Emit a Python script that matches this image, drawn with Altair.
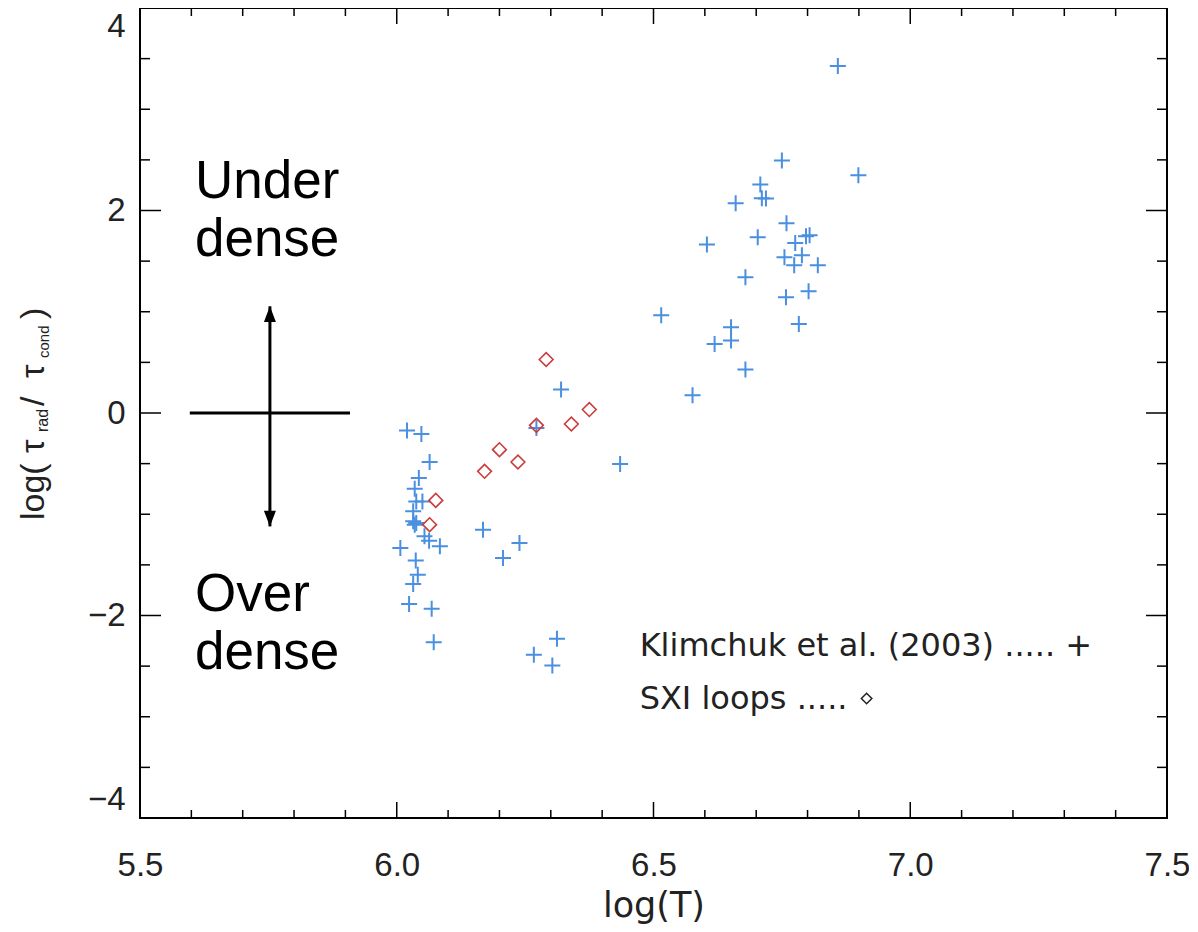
import altair as alt
import pandas as pd

# ---- data ----
klim_logT = [6.020, 6.048, 6.064, 6.043, 6.035, 6.038, 6.050, 6.032, 6.032, 6.038,
             6.035, 6.054, 6.063, 6.084, 6.007, 6.037, 6.041, 6.032, 6.024, 6.068,
             6.072, 6.168, 6.239, 6.207, 6.312, 6.267, 6.303, 6.272, 6.320, 6.435,
             6.515, 6.576, 6.679, 6.619, 6.651, 6.651, 6.783, 6.758, 6.802, 6.679,
             6.820, 6.774, 6.755, 6.789, 6.604, 6.776, 6.804, 6.797, 6.703, 6.759,
             6.660, 6.711, 6.719, 6.708, 6.750, 6.899, 6.859]
klim_ratio = [-0.174, -0.207, -0.484, -0.642, -0.747, -0.873, -0.873, -0.971, -1.070, -1.087,
              -1.103, -1.218, -1.261, -1.317, -1.334, -1.458, -1.597, -1.690, -1.887, -1.933,
              -2.263, -1.152, -1.285, -1.433, -2.229, -2.387, -2.493, -0.148, 0.231, -0.504,
              0.965, 0.176, 0.429, 0.682, 0.715, 0.847, 0.879, 1.143, 1.203, 1.341,
              1.459, 1.459, 1.539, 1.558, 1.664, 1.680, 1.756, 1.746, 1.736, 1.874,
              2.072, 2.122, 2.119, 2.257, 2.494, 2.349, 3.426]

sxi_logT = [6.291, 6.375, 6.340, 6.272, 6.200, 6.236, 6.171, 6.076, 6.064]
sxi_ratio = [0.528, 0.034, -0.109, -0.122, -0.362, -0.484, -0.576, -0.863, -1.103]

x_label_values = [5.5, 6.0, 6.5, 7.0, 7.5]
y_label_values = [-4, -2, 0, 2, 4]
x_major_ticks = [6.0, 6.5, 7.0]
x_minor_ticks = [5.6, 5.7, 5.8, 5.9, 6.1, 6.2, 6.3, 6.4, 6.6, 6.7, 6.8, 6.9, 7.1, 7.2, 7.3, 7.4]
y_major_ticks = [-2, 0, 2]
y_minor_ticks = [-3.5, -3, -2.5, -1.5, -1, -0.5, 0.5, 1, 1.5, 2.5, 3, 3.5]

# annotations (data coordinates)
ann_text = ["Under", "dense", "Over", "dense"]
ann_x = [5.607, 5.607, 5.607, 5.607]
ann_y = [2.12, 1.55, -1.96, -2.53]

hline_x = [5.597]
hline_x2 = [5.909]
hline_y = [0.0]
arrow_x = [5.753]
arrow_top = [1.054]
arrow_bot = [-1.12]

legend_text = ["Klimchuk et al. (2003) ..... +", "SXI loops ....."]
legend_x = [6.473, 6.473]
legend_y = [-2.40, -2.92]
legend_diamond_x = [6.915]
legend_diamond_y = [-2.82]

# y-axis title pieces (pixel layout relative to the plot area)
yt_text = ["log(", "τ", "rad", "/", "τ", "cond", ")"]
yt_px = [-106, -106, -97, -106, -106, -96, -106]
yt_py = [512, 445, 424, 398, 370, 350, 311]
yt_fs = [34, 34, 16, 34, 34, 15, 34]

W, H = 1027, 810
FONT = "Liberation Sans"
TFONT = "DejaVu Sans"
BLUE = "#4a8fe0"
RED = "#cc3b3b"

xs = alt.Scale(domain=[5.5, 7.5], nice=False, zero=False)
ys = alt.Scale(domain=[-4, 4], nice=False, zero=False)

x_axis = alt.Axis(values=x_label_values, format=".1f", ticks=False, domain=False, grid=False,
                  labelFont=FONT, labelFontSize=33, labelColor="#222", labelPadding=31,
                  labelFlush=False,
                  title="log(T)", titleFont=TFONT, titleFontSize=35, titleFontWeight="normal",
                  titleColor="#222", titlePadding=6)
y_axis = alt.Axis(values=y_label_values, format="d", ticks=False, domain=False, grid=False,
                  labelFont=FONT, labelFontSize=33, labelColor="#222", labelPadding=15,
                  labelFlush=True, labelFlushOffset=-2, title="")


def X(field):
    return alt.X(field, scale=xs, axis=x_axis)


def Y(field):
    return alt.Y(field, scale=ys, axis=y_axis)


klim = pd.DataFrame({"logT": klim_logT, "r": klim_ratio})
sxi = pd.DataFrame({"logT": sxi_logT, "r": sxi_ratio})

plus_path = "M-1,0H1M0,-1V1"

klim_layer = alt.Chart(klim).mark_point(shape=plus_path, size=256, strokeWidth=2,
                                         color=BLUE, filled=False, opacity=1).encode(
    x=X("logT:Q"), y=Y("r:Q"))
sxi_layer = alt.Chart(sxi).mark_point(shape="diamond", size=190, strokeWidth=1.6,
                                       color=RED, filled=False, opacity=1).encode(
    x=X("logT:Q"), y=Y("r:Q"))


def xtick_layer(vals, length, top):
    df = pd.DataFrame({"v": vals})
    if top:
        yv, y2v = 0, length
    else:
        yv, y2v = H, H - length
    return alt.Chart(df).mark_rule(color="black", strokeWidth=1.5).encode(
        x=X("v:Q"), y=alt.value(yv), y2=alt.value(y2v))


def ytick_layer(vals, length, right):
    df = pd.DataFrame({"v": vals})
    if right:
        xv, x2v = W, W - length
    else:
        xv, x2v = 0, length
    return alt.Chart(df).mark_rule(color="black", strokeWidth=1.5).encode(
        y=Y("v:Q"), x=alt.value(xv), x2=alt.value(x2v))


ticks = [
    xtick_layer(x_major_ticks, 16, False), xtick_layer(x_minor_ticks, 8, False),
    xtick_layer(x_major_ticks, 16, True), xtick_layer(x_minor_ticks, 8, True),
    ytick_layer(y_major_ticks, 21, False), ytick_layer(y_minor_ticks, 10, False),
    ytick_layer(y_major_ticks, 21, True), ytick_layer(y_minor_ticks, 10, True),
]

ann = pd.DataFrame({"t": ann_text, "x": ann_x, "y": ann_y})
ann_layer = alt.Chart(ann).mark_text(font=FONT, fontSize=53, align="left",
                                     baseline="alphabetic", color="black").encode(
    x=X("x:Q"), y=Y("y:Q"), text="t:N")

hl = pd.DataFrame({"x": hline_x, "x2": hline_x2, "y": hline_y})
hline_layer = alt.Chart(hl).mark_rule(color="black", strokeWidth=3).encode(
    x=X("x:Q"), x2="x2:Q", y=Y("y:Q"))

ar = pd.DataFrame({"x": arrow_x, "top": arrow_top, "bot": arrow_bot})
vline_layer = alt.Chart(ar).mark_rule(color="black", strokeWidth=3).encode(
    x=X("x:Q"), y=Y("top:Q"), y2="bot:Q")
head_up = alt.Chart(ar).mark_point(shape="M0,0L-1,2.6L1,2.6Z", size=144, filled=True,
                                    color="black", opacity=1).encode(
    x=X("x:Q"), y=Y("top:Q"))
head_down = alt.Chart(ar).mark_point(shape="M0,0L-1,-2.6L1,-2.6Z", size=144, filled=True,
                                      color="black", opacity=1).encode(
    x=X("x:Q"), y=Y("bot:Q"))

leg = pd.DataFrame({"t": legend_text, "x": legend_x, "y": legend_y})
leg_layer = alt.Chart(leg).mark_text(font=TFONT, fontSize=32, align="left",
                                     baseline="alphabetic", color="#222").encode(
    x=X("x:Q"), y=Y("y:Q"), text="t:N")
legd = pd.DataFrame({"x": legend_diamond_x, "y": legend_diamond_y})
legd_layer = alt.Chart(legd).mark_point(shape="diamond", size=110, strokeWidth=1.5,
                                         color="#222", filled=False, opacity=1).encode(
    x=X("x:Q"), y=Y("y:Q"))

yt = pd.DataFrame({"t": yt_text, "px": yt_px, "py": yt_py, "fs": yt_fs})
yt_layer = alt.Chart(yt).mark_text(font=FONT, angle=270, align="left", baseline="middle",
                                   color="#222").encode(
    x=alt.X("px:Q", scale=None, axis=None), y=alt.Y("py:Q", scale=None, axis=None),
    size=alt.Size("fs:Q", scale=None, legend=None), text="t:N")

chart = alt.layer(
    klim_layer, sxi_layer, *ticks, hline_layer, vline_layer, head_up, head_down,
    ann_layer, leg_layer, legd_layer, yt_layer,
).properties(
    width=W, height=H,
    autosize=alt.AutoSizeParams(type="none"),
    padding={"left": 132, "top": 0, "right": 22, "bottom": 112},
).configure_view(stroke="black", strokeWidth=2)

chart.save("out.html", embed_options={"renderer": "svg", "actions": False})
